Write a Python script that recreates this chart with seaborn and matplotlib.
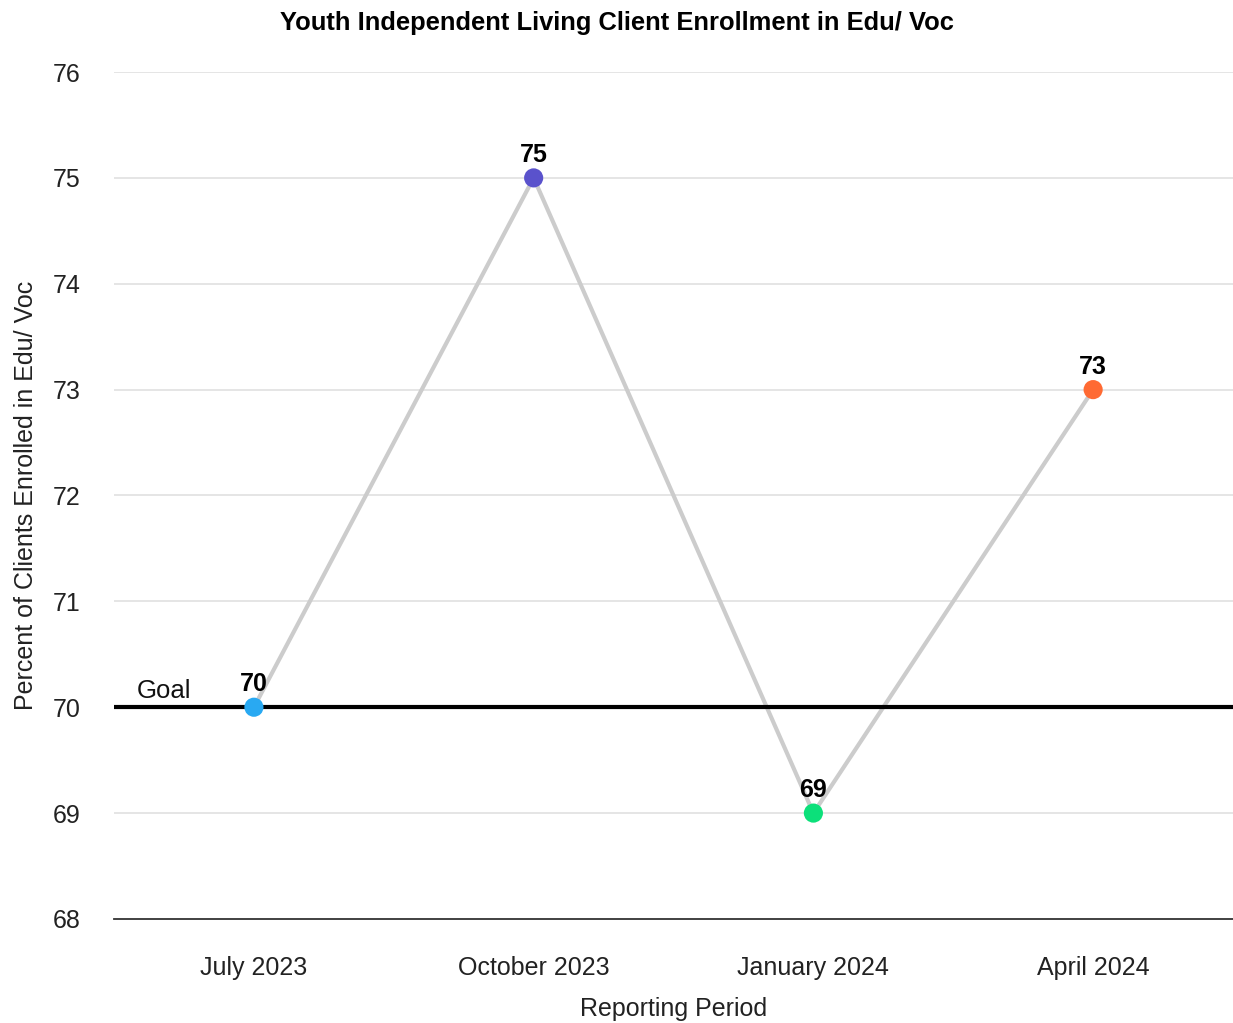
import matplotlib
matplotlib.use("Agg")
import matplotlib.pyplot as plt
import seaborn as sns
import pandas as pd

periods = ["July 2023", "October 2023", "January 2024", "April 2024"]
percent_enrolled = [70, 75, 69, 73]
point_colors = ["#29a9f2", "#5a52cc", "#0ce07a", "#ff6a33"]
goal_value = 70
y_ticks = [68, 69, 70, 71, 72, 73, 74, 75, 76]

df = pd.DataFrame({"period": periods, "value": percent_enrolled, "pos": range(len(periods))})

sns.set_theme(style="white")
plt.rcParams["font.family"] = ["Liberation Sans", "DejaVu Sans"]

fig = plt.figure(figsize=(12.33, 10.23), dpi=100)
ax = fig.add_axes([0.0925, 0.1017, 0.9075, 0.8279])

# horizontal grid
for v in y_ticks[1:]:
    ax.axhline(v, color="#e3e3e3", lw=1.3, zorder=0)

# connecting line
sns.lineplot(data=df, x="pos", y="value", ax=ax, color="#cccccc", lw=3, zorder=2)

# goal line
ax.axhline(goal_value, color="black", lw=3, zorder=3)
ax.text(-0.42, goal_value + 0.04, "Goal", fontsize=18.5, ha="left", va="bottom", color="#111111")

# points
sns.scatterplot(data=df, x="pos", y="value", hue="period", palette=point_colors,
                s=190, edgecolor="none", legend=False, ax=ax, zorder=4)

for x, v in zip(df["pos"], df["value"]):
    ax.annotate(f"{v}", (x, v), xytext=(0, 8), textcoords="offset points",
                ha="center", va="bottom", fontsize=18, fontweight="bold", color="black", zorder=5)

ax.set_xlim(-0.5, 3.5)
ax.set_ylim(68, 76)
ax.set_yticks(y_ticks)
ax.set_xticks(range(len(periods)))
ax.set_xticklabels(periods)
ax.tick_params(axis="both", length=0, labelsize=18, colors="#222222")
ax.tick_params(axis="y", pad=24)
ax.tick_params(axis="x", pad=27)

for side in ["top", "right", "left"]:
    ax.spines[side].set_visible(False)
ax.spines["bottom"].set_color("#333333")
ax.spines["bottom"].set_linewidth(1.3)

ax.set_xlabel("Reporting Period", fontsize=18, color="#222222", labelpad=12)
ax.set_ylabel("Percent of Clients Enrolled in Edu/ Voc", fontsize=18, color="#222222", labelpad=11)

fig.text(0.5, 0.978, "Youth Independent Living Client Enrollment in Edu/ Voc",
         ha="center", va="center", fontsize=18.4, fontweight="bold", color="black")

fig.savefig("out.png", dpi=100, facecolor="white")
